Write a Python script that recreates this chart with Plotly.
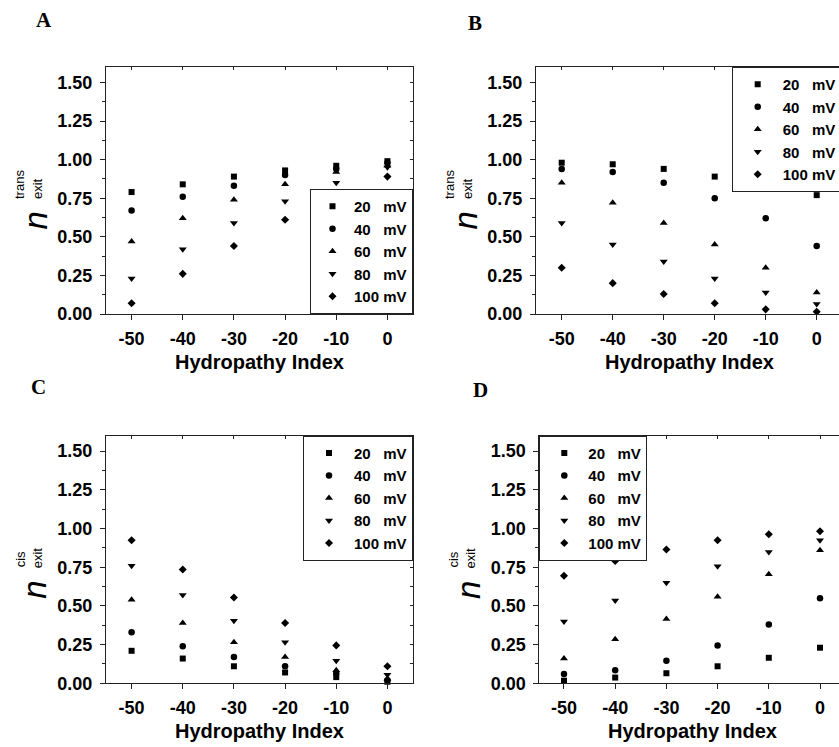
import plotly.graph_objects as go

# ---------------- data ----------------
hydropathy = [-50, -40, -30, -20, -10, 0]
x_ticklabels = ["-50", "-40", "-30", "-20", "-10", "0"]
y_tickvals = [0.0, 0.25, 0.5, 0.75, 1.0, 1.25, 1.5]
y_ticklabels = ["0.00", "0.25", "0.50", "0.75", "1.00", "1.25", "1.50"]
voltage_labels = ["20\u00a0\u00a0\u00a0mV", "40\u00a0\u00a0\u00a0mV", "60\u00a0\u00a0\u00a0mV",
                  "80\u00a0\u00a0\u00a0mV", "100\u00a0mV"]

# Panel A: n_exit^trans
A_20 = [0.79, 0.84, 0.89, 0.93, 0.96, 0.99]
A_40 = [0.67, 0.76, 0.83, 0.90, 0.94, 0.98]
A_60 = [0.47, 0.62, 0.74, 0.84, 0.92, 0.96]
A_80 = [0.23, 0.42, 0.59, 0.73, 0.85, 0.95]
A_100 = [0.07, 0.26, 0.44, 0.61, 0.76, 0.89]

# Panel B: n_exit^trans
B_20 = [0.98, 0.97, 0.94, 0.89, 0.84, 0.77]
B_40 = [0.94, 0.92, 0.85, 0.75, 0.62, 0.44]
B_60 = [0.85, 0.72, 0.59, 0.45, 0.30, 0.14]
B_80 = [0.59, 0.45, 0.34, 0.23, 0.14, 0.065]
B_100 = [0.30, 0.20, 0.13, 0.07, 0.03, 0.015]

# Panel C: n_exit^cis
C_20 = [0.21, 0.16, 0.11, 0.07, 0.04, 0.01]
C_40 = [0.33, 0.24, 0.17, 0.11, 0.065, 0.02]
C_60 = [0.54, 0.39, 0.265, 0.17, 0.085, 0.03]
C_80 = [0.76, 0.57, 0.405, 0.265, 0.145, 0.055]
C_100 = [0.925, 0.735, 0.555, 0.39, 0.245, 0.11]

# Panel D: n_exit^cis
D_20 = [0.017, 0.037, 0.065, 0.11, 0.165, 0.23]
D_40 = [0.06, 0.085, 0.145, 0.245, 0.38, 0.55]
D_60 = [0.16, 0.285, 0.415, 0.56, 0.705, 0.86]
D_80 = [0.40, 0.535, 0.65, 0.757, 0.848, 0.925]
D_100 = [0.695, 0.79, 0.865, 0.925, 0.963, 0.983]

panel_series = {
    "A": [A_20, A_40, A_60, A_80, A_100],
    "B": [B_20, B_40, B_60, B_80, B_100],
    "C": [C_20, C_40, C_60, C_80, C_100],
    "D": [D_20, D_40, D_60, D_80, D_100],
}
panel_sup = {"A": "trans", "B": "trans", "C": "cis", "D": "cis"}

# ---------------- layout geometry (pixels) ----------------
W, H = 839, 747


def fx(p):
    return p / W


def fy(p):
    return 1 - p / H


geom = {
    "A": dict(x0=106, x1=413, xfull=413, y0=67, y1=314, xr=[-55, 5], right=True,
              leg=dict(x=413, xa="right", y=314, ya="bottom", iw=33), letter=(44, 20)),
    "B": dict(x0=536, x1=839, xfull=842, y0=67, y1=314, xr=[-55.04, 4.37], right=False,
              leg=dict(x=731.7, xa="left", y=67, ya="top", iw=40), letter=(475, 23)),
    "C": dict(x0=106, x1=413, xfull=413, y0=435.7, y1=683.3, xr=[-55, 5], right=True,
              leg=dict(x=413, xa="right", y=435.7, ya="top", iw=40), letter=(38, 387)),
    "D": dict(x0=539.3, x1=839, xfull=845, y0=435.7, y1=683.3, xr=[-54.82, 3.71], right=False,
              leg=dict(x=539.3, xa="left", y=435.7, ya="top", iw=38), letter=(480, 390)),
}

symbols = ["square", "circle", "triangle-up", "triangle-down", "diamond"]
sizes = [6, 6.5, 7, 7, 6.2]

TICKFONT = dict(family="Liberation Sans, Arial, sans-serif", size=18, color="black", weight="bold")
LINEC = "#222222"

fig = go.Figure()
layout = dict(
    width=W, height=H,
    margin=dict(l=0, r=0, t=0, b=0, autoexpand=False),
    paper_bgcolor="white", plot_bgcolor="white",
    showlegend=True,
    annotations=[],
)

extra_x = 5
extra_y = 5
for i, key in enumerate(["A", "B", "C", "D"]):
    n = i + 1
    g = geom[key]
    xid = "x" if n == 1 else f"x{n}"
    yid = "y" if n == 1 else f"y{n}"
    xname = "xaxis" if n == 1 else f"xaxis{n}"
    yname = "yaxis" if n == 1 else f"yaxis{n}"
    legname = "legend" if n == 1 else f"legend{n}"

    for s, vals in enumerate(panel_series[key]):
        fig.add_trace(go.Scatter(
            x=hydropathy, y=vals, mode="markers", name=voltage_labels[s],
            marker=dict(symbol=symbols[s], size=sizes[s], color="black"),
            xaxis=xid, yaxis=yid, legend=legname, cliponaxis=False,
        ))

    layout[xname] = dict(
        domain=[fx(g["x0"]), fx(g["x1"])], range=g["xr"], anchor=yid,
        tickmode="array", tickvals=hydropathy, ticktext=x_ticklabels,
        ticks="outside", ticklen=5, tickwidth=1, tickcolor=LINEC,
        showline=True, linecolor=LINEC, linewidth=1,
        showgrid=False, zeroline=False, tickfont=TICKFONT, ticklabelstandoff=3,
    )
    layout[yname] = dict(
        domain=[fy(g["y1"]), fy(g["y0"])], range=[0, 1.6], anchor=xid,
        tickmode="array", tickvals=y_tickvals, ticktext=y_ticklabels,
        ticks="outside", ticklen=5, tickwidth=1, tickcolor=LINEC,
        minor=dict(tickmode="linear", tick0=0, dtick=0.125, ticks="outside", ticklen=3,
                   tickcolor=LINEC, tickwidth=1, showgrid=False),
        showline=True, linecolor=LINEC, linewidth=1,
        showgrid=False, zeroline=False, tickfont=TICKFONT, ticklabelstandoff=4,
    )

    # top axis (inside ticks)
    tx = f"x{extra_x}"
    layout[f"xaxis{extra_x}"] = dict(
        overlaying=xid, side="top", anchor=yid, range=g["xr"],
        tickmode="array", tickvals=hydropathy, showticklabels=False,
        ticks="inside", ticklen=3, tickwidth=1, tickcolor=LINEC,
        showline=True, linecolor=LINEC, linewidth=1, showgrid=False, zeroline=False,
    )
    fig.add_trace(go.Scatter(x=[], y=[], xaxis=tx, yaxis=yid, showlegend=False, hoverinfo="skip"))
    extra_x += 1

    if g["right"]:
        ty = f"y{extra_y}"
        layout[f"yaxis{extra_y}"] = dict(
            overlaying=yid, side="right", anchor=xid, range=[0, 1.6],
            tickmode="linear", tick0=0, dtick=0.25, showticklabels=False,
            ticks="inside", ticklen=3, tickwidth=1, tickcolor=LINEC,
            minor=dict(tickmode="linear", tick0=0, dtick=0.125, ticks="inside", ticklen=3,
                       tickcolor=LINEC, tickwidth=1, showgrid=False),
            showline=True, linecolor=LINEC, linewidth=1, showgrid=False, zeroline=False,
        )
        fig.add_trace(go.Scatter(x=[], y=[], xaxis=xid, yaxis=ty, showlegend=False, hoverinfo="skip"))
        extra_y += 1

    lg = g["leg"]
    layout[legname] = dict(
        x=fx(lg["x"]), xanchor=lg["xa"], y=fy(lg["y"]), yanchor=lg["ya"],
        xref="paper", yref="paper",
        bgcolor="white", bordercolor=LINEC, borderwidth=1,
        font=dict(family="Liberation Sans, Arial, sans-serif", size=15, color="black", weight="bold"),
        itemwidth=lg["iw"], tracegroupgap=0,
    )

    # panel letter
    layout["annotations"].append(dict(
        text=key, x=fx(g["letter"][0]), y=fy(g["letter"][1]), xref="paper", yref="paper",
        xanchor="center", yanchor="middle", showarrow=False,
        font=dict(family="Liberation Serif, Times New Roman, serif", size=21, color="black", weight="bold"),
    ))
    # x-axis title
    layout["annotations"].append(dict(
        text="Hydropathy Index", x=fx((g["x0"] + g["xfull"]) / 2), y=fy(g["y1"] + 48),
        xref="paper", yref="paper", xanchor="center", yanchor="middle", showarrow=False,
        font=dict(family="Liberation Sans, Arial, sans-serif", size=20, color="black", weight="bold"),
    ))
    # y-axis label: n (italic) with stacked sup/sub
    left, bottom = g["x0"], g["y1"]
    layout["annotations"].append(dict(
        text="<i>n</i>", x=fx(left - 71), y=fy(bottom - 93.5), xref="paper", yref="paper",
        xanchor="center", yanchor="middle", showarrow=False, textangle=-90,
        font=dict(family="Liberation Sans, Arial, sans-serif", size=33, color="black"),
    ))
    sup = panel_sup[key]
    sup_off = 129 if sup == "trans" else 124
    layout["annotations"].append(dict(
        text=sup, x=fx(left - 86), y=fy(bottom - sup_off), xref="paper", yref="paper",
        xanchor="center", yanchor="middle", showarrow=False, textangle=-90,
        font=dict(family="Liberation Sans, Arial, sans-serif", size=13, color="black"),
    ))
    layout["annotations"].append(dict(
        text="exit", x=fx(left - 68.5), y=fy(bottom - 125.5), xref="paper", yref="paper",
        xanchor="center", yanchor="middle", showarrow=False, textangle=-90,
        font=dict(family="Liberation Sans, Arial, sans-serif", size=13, color="black"),
    ))

fig.update_layout(**layout)
fig.write_html("out.html")
